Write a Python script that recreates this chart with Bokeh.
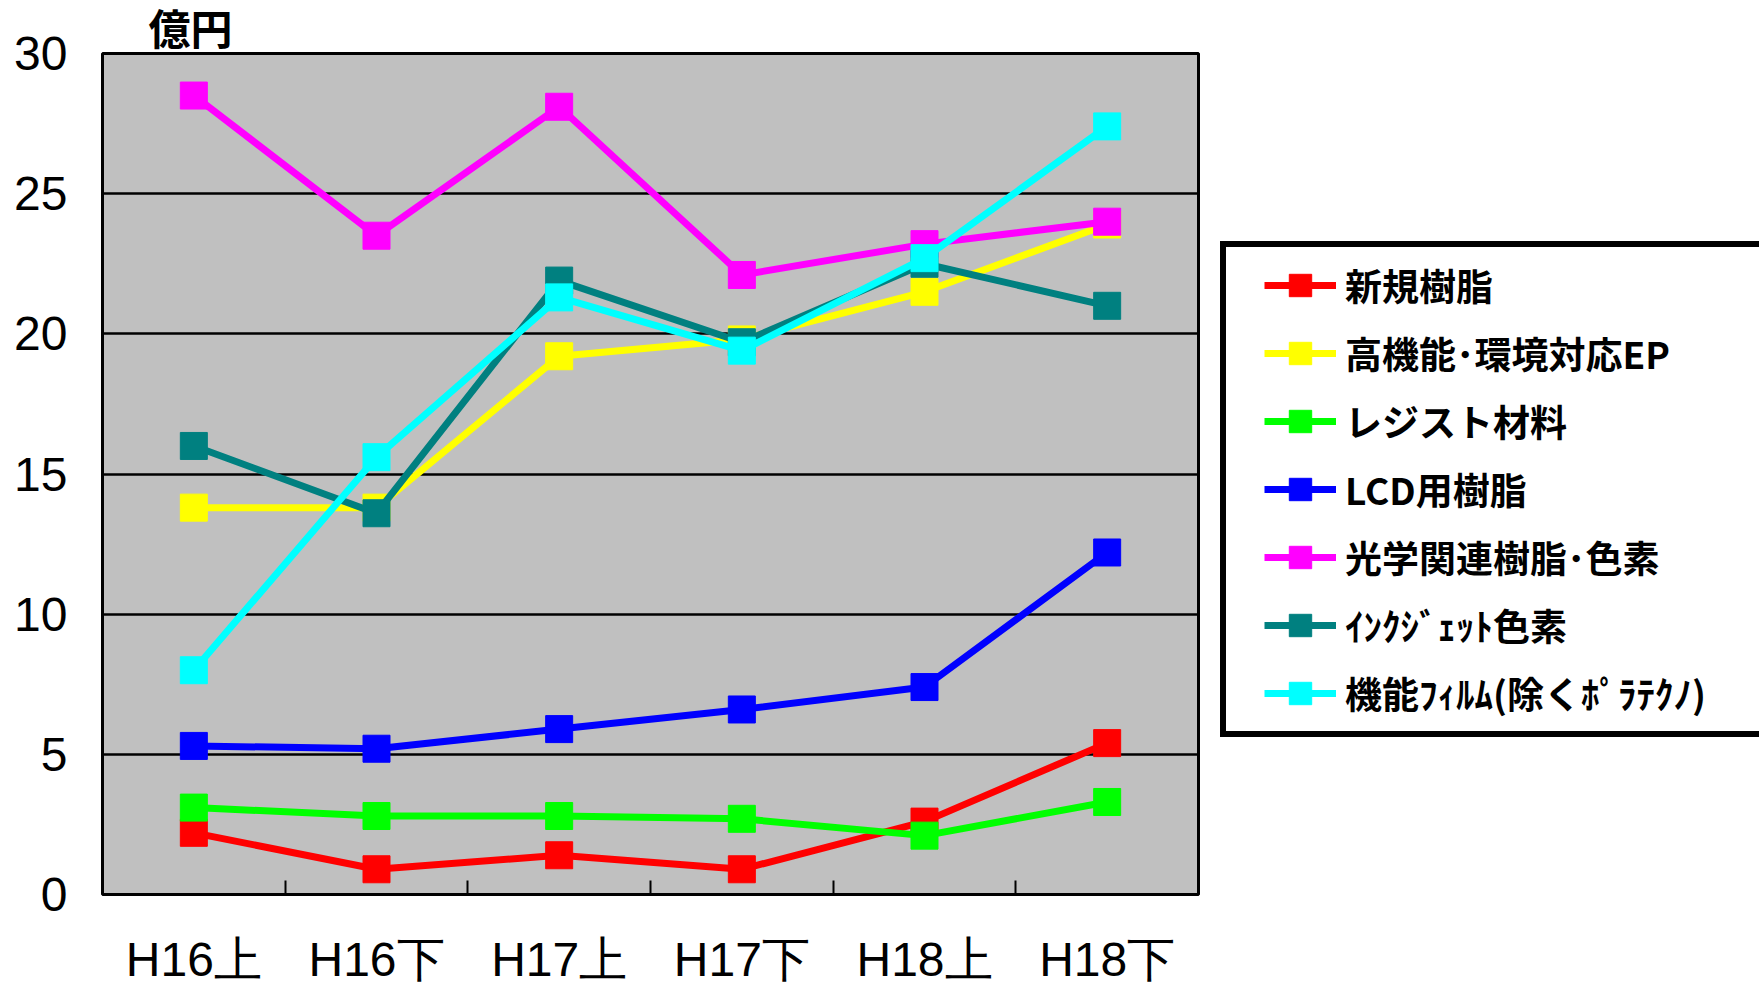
from bokeh.plotting import figure
from bokeh.models import (Range1d, FixedTicker, CustomJSTickFormatter,
                          Legend, LegendItem, Title)
from bokeh.embed import file_html
from bokeh.resources import INLINE

categories = ["H16上", "H16下", "H17上", "H17下", "H18上", "H18下"]
series_names = ["新規樹脂", "高機能･環境対応EP", "レジスト材料", "LCD用樹脂",
                "光学関連樹脂･色素", "ｲﾝｸｼﾞｪｯﾄ色素", "機能ﾌｨﾙﾑ(除くﾎﾟﾗﾃｸﾉ)"]
shinki = [2.2, 0.9, 1.4, 0.9, 2.6, 5.4]
kokino = [13.8, 13.8, 19.2, 19.8, 21.5, 23.9]
resist = [3.1, 2.8, 2.8, 2.7, 2.1, 3.3]
lcd = [5.3, 5.2, 5.9, 6.6, 7.4, 12.2]
kogaku = [28.5, 23.5, 28.1, 22.1, 23.2, 24.0]
inkjet = [16.0, 13.6, 21.9, 19.7, 22.5, 21.0]
film = [8.0, 15.6, 21.3, 19.4, 22.7, 27.4]
colors = ["#FF0000", "#FFFF00", "#00FF00", "#0000FF", "#FF00FF", "#008080", "#00FFFF"]
y_ticks = [0, 5, 10, 15, 20, 25, 30]
unit_label = "億円"

series = [shinki, kokino, resist, lcd, kogaku, inkjet, film]
n = len(categories)
xs = [i + 0.5 for i in range(n)]

title = Title(text=unit_label, align="left", offset=46, standoff=0,
              text_font="Liberation Sans, Noto Sans CJK JP", text_font_style="bold",
              text_font_size="42px", text_color="black")

p = figure(frame_width=1096, frame_height=841, title=title,
           min_border_left=102, min_border_right=561, min_border_top=53, min_border_bottom=91,
           x_range=Range1d(0, n), y_range=Range1d(0, 30),
           output_backend="svg", toolbar_location=None,
           background_fill_color="#C0C0C0", border_fill_color="white")
p.outline_line_color = "black"
p.outline_line_width = 3

p.xgrid.grid_line_color = None
p.ygrid.grid_line_color = "black"
p.ygrid.grid_line_width = 2.5
p.yaxis.ticker = FixedTicker(ticks=y_ticks)
p.xaxis.ticker = FixedTicker(ticks=xs, minor_ticks=list(range(1, n)))
p.xaxis.formatter = CustomJSTickFormatter(args=dict(labels=categories),
                                          code="return labels[Math.floor(tick)];")
for ax in (p.xaxis[0], p.yaxis[0]):
    ax.axis_line_color = None
    ax.major_tick_line_color = None
    ax.major_tick_out = 0
    ax.major_tick_in = 0
    ax.major_label_text_font = "Liberation Sans"
    ax.major_label_text_font_size = "48px"
    ax.major_label_text_color = "black"
p.yaxis.minor_tick_line_color = None
p.xaxis.minor_tick_line_color = "black"
p.xaxis.minor_tick_line_width = 2
p.xaxis.minor_tick_in = 14
p.xaxis.minor_tick_out = 0
p.xaxis.major_label_standoff = 38
p.yaxis.major_label_standoff = 35

items = []
for name, vals, col in zip(series_names, series, colors):
    r1 = p.line(xs, vals, line_color=col, line_width=7)
    r2 = p.scatter(xs, vals, marker="square", size=27, fill_color=col, line_color=col)
    items.append(LegendItem(label=name, renderers=[r1, r2]))

legend = Legend(items=items, location=(22, 157), padding=10, margin=0, spacing=12,
                title=" ", title_location="left", title_text_font_size="10px",
                title_standoff=17,
                glyph_width=72, glyph_height=56, label_height=56, label_width=410,
                label_standoff=9,
                label_text_font="Noto Sans CJK JP", label_text_font_style="bold",
                label_text_font_size="37px", label_text_color="black",
                border_line_color="black", border_line_width=6, border_line_alpha=1.0,
                background_fill_color="white", background_fill_alpha=1.0)
p.add_layout(legend, "right")

open("out.html", "w").write(file_html(p, INLINE))
